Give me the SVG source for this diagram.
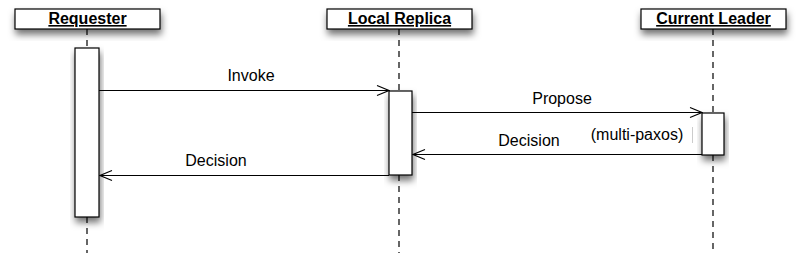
<svg xmlns="http://www.w3.org/2000/svg" width="800" height="253" viewBox="0 0 800 253">
<style>
.hdr{fill:#fff;stroke:#000;stroke-width:1.2}
.act{fill:#fff;stroke:#000;stroke-width:1.2}
.life{stroke:#000;stroke-width:1.2;stroke-dasharray:6,5;fill:none}
.title{font-family:"Liberation Sans",Arial,sans-serif;font-weight:bold;font-size:16px;text-anchor:middle;text-decoration:underline}
.lbl{font-family:"Liberation Sans",Arial,sans-serif;font-size:16px;text-anchor:middle;fill:#000}
.msg{stroke:#000;stroke-width:1.1;fill:none}
</style>
<defs>
<filter id="sh" x="-20%" y="-40%" width="140%" height="200%">
<feDropShadow dx="1" dy="5" stdDeviation="3.5" flood-color="#000" flood-opacity="0.55"/>
</filter>
<marker id="open" viewBox="0 0 14 12" refX="13" refY="6" markerWidth="14" markerHeight="12" markerUnits="userSpaceOnUse" orient="auto">
<path d="M1,1 L13,6 L1,11" fill="none" stroke="#000" stroke-width="1.1"/>
</marker>
</defs>
<g id="lifelines">
<line class="life" x1="87" y1="29" x2="87" y2="48"/>
<line class="life" x1="87" y1="217" x2="87" y2="253"/>
<line class="life" x1="399" y1="29" x2="399" y2="91"/>
<line class="life" x1="399" y1="175" x2="399" y2="253"/>
<line class="life" x1="713" y1="29" x2="713" y2="113"/>
<line class="life" x1="713" y1="155" x2="713" y2="253"/>
</g>
<g id="requester">
<rect class="hdr" x="15" y="9" width="145" height="20" filter="url(#sh)"/>
<text class="title" x="87.5" y="24">Requester</text>
<rect class="act" x="75" y="48" width="24" height="169" filter="url(#sh)"/>
</g>
<g id="local-replica">
<rect class="hdr" x="327" y="9" width="145" height="20" filter="url(#sh)"/>
<text class="title" x="399.5" y="24">Local Replica</text>
<rect class="act" x="389" y="91" width="23" height="84" filter="url(#sh)"/>
</g>
<g id="current-leader">
<rect class="hdr" x="641" y="9" width="145" height="20" filter="url(#sh)"/>
<text class="title" x="713.5" y="24">Current Leader</text>
<rect class="act" x="702" y="113" width="22" height="42" filter="url(#sh)"/>
</g>
<g id="connectors">
<line class="msg" x1="99" y1="90.5" x2="389" y2="90.5" marker-end="url(#open)"/>
<line class="msg" x1="412" y1="112.5" x2="702" y2="112.5" marker-end="url(#open)"/>
<line class="msg" x1="702" y1="154.5" x2="413" y2="154.5" marker-end="url(#open)"/>
<line class="msg" x1="389" y1="175.5" x2="100" y2="175.5" marker-end="url(#open)"/>
<line x1="692.5" y1="127" x2="692.5" y2="143" stroke="#ccc" stroke-width="1"/>
</g>
<g id="labels">
<text class="lbl" x="251" y="81">Invoke</text>
<text class="lbl" x="562" y="104">Propose</text>
<text class="lbl" x="529" y="146">Decision</text>
<text class="lbl" x="637" y="140">(multi-paxos)</text>
<text class="lbl" x="216" y="166">Decision</text>
</g>
</svg>
